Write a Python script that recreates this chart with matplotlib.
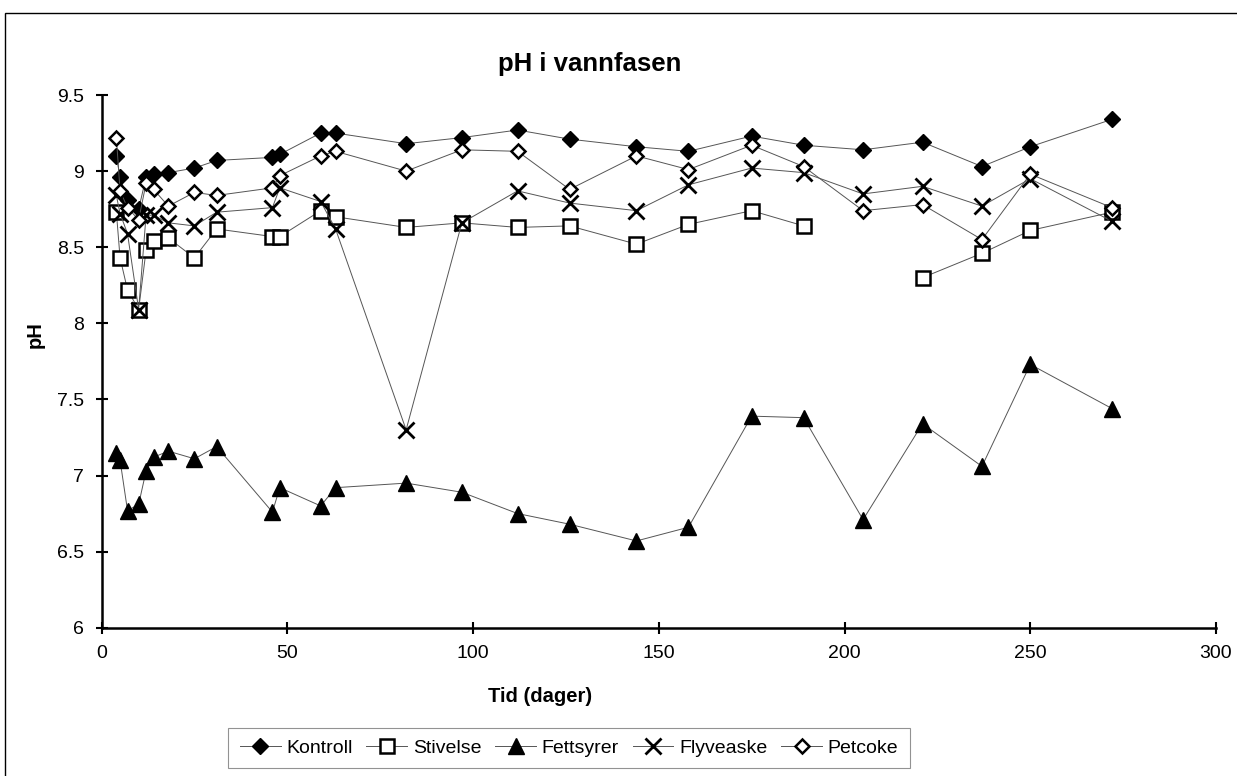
import numpy as np
import matplotlib
matplotlib.use("Agg")
import matplotlib.pyplot as plt
from matplotlib.patches import Rectangle

plt.rcParams['font.family'] = ['Liberation Sans', 'DejaVu Sans']

# ---- Data ----
days = [4, 5, 7, 10, 12, 14, 18, 25, 31, 46, 48, 59, 63, 82, 97, 112,
        126, 144, 158, 175, 189, 205, 221, 237, 250, 272]

kontroll = [9.10, 8.96, 8.81, 8.75, 8.96, 8.98, 8.99, 9.02, 9.07, 9.09, 9.11, 9.25, 9.25,
            9.18, 9.22, 9.27, 9.21, 9.16, 9.13, 9.23, 9.17, 9.14, 9.19, 9.03, 9.16, 9.34]
stivelse = [8.73, 8.43, 8.22, 8.09, 8.48, 8.54, 8.56, 8.43, 8.62, 8.57, 8.57, 8.74, 8.70,
            8.63, 8.66, 8.63, 8.64, 8.52, 8.65, 8.74, 8.64, np.nan, 8.30, 8.46, 8.61, 8.73]
fettsyrer = [7.15, 7.10, 6.77, 6.81, 7.03, 7.12, 7.16, 7.11, 7.19, 6.76, 6.92, 6.80, 6.92,
             6.95, 6.89, 6.75, 6.68, 6.57, 6.66, 7.39, 7.38, 6.71, 7.34, 7.06, 7.73, 7.44]
flyveaske = [8.84, 8.72, 8.59, 8.09, 8.71, 8.71, 8.66, 8.64, 8.73, 8.76, 8.89, 8.80, 8.62,
             7.30, 8.66, 8.87, 8.79, 8.74, 8.91, 9.02, 8.99, 8.85, 8.90, 8.77, 8.95, 8.67]
petcoke = [9.22, 8.87, 8.76, 8.68, 8.92, 8.88, 8.77, 8.86, 8.84, 8.89, 8.97, 9.10, 9.13,
           9.00, 9.14, 9.13, 8.88, 9.10, 9.01, 9.17, 9.03, 8.74, 8.78, 8.55, 8.98, 8.76]

labels = ['Kontroll', 'Stivelse', 'Fettsyrer', 'Flyveaske', 'Petcoke']
xticks = [0, 50, 100, 150, 200, 250, 300]
yticks = [6, 6.5, 7, 7.5, 8, 8.5, 9, 9.5]

# ---- Figure ----
W, H = 1237, 776
fig = plt.figure(figsize=(W / 100, H / 100), dpi=100)

# chart border (left and top visible in the scan)
fig.patches.append(Rectangle((5 / W, -0.1), 1.2, 1.1 - 13 / H, transform=fig.transFigure,
                             fill=False, lw=1.0, edgecolor='black'))

left, right, top, bottom = 101.5, 1216, 95, 627.7
ax = fig.add_axes([left / W, 1 - bottom / H, (right - left) / W, (bottom - top) / H])

line_kw = dict(color='#555555', lw=0.7)
ax.plot(days, kontroll, marker='D', ms=8, mfc='black', mec='black', label=labels[0], **line_kw)
ax.plot(days, stivelse, marker='s', ms=10.5, mfc='white', mec='black', mew=1.8, label=labels[1], **line_kw)
ax.plot(days, fettsyrer, marker='^', ms=12, mfc='black', mec='black', label=labels[2], **line_kw)
ax.plot(days, flyveaske, marker='x', ms=11, mec='black', mew=2, label=labels[3], **line_kw)
ax.plot(days, petcoke, marker='D', ms=7.5, mfc='white', mec='black', mew=1.8, label=labels[4], **line_kw)

ax.set_xlim(0, 300)
ax.set_ylim(6, 9.5)
ax.set_xticks(xticks)
ax.set_yticks(yticks)
ax.set_xticklabels([str(t) for t in xticks])
ax.set_yticklabels([f'{t:g}' for t in yticks])
ax.tick_params(direction='inout', length=9, width=1.5, labelsize=14, pad=8)
for s in ['top', 'right']:
    ax.spines[s].set_visible(False)
for s in ['left', 'bottom']:
    ax.spines[s].set_linewidth(1.8)

fig.text(590 / W, 1 - 64 / H, 'pH i vannfasen', ha='center', va='center',
         fontsize=18.5, fontweight='bold')
fig.text(540 / W, 1 - 697 / H, 'Tid (dager)', ha='center', va='center',
         fontsize=14.5, fontweight='bold')
fig.text(35 / W, 1 - 335 / H, 'pH', ha='center', va='center', rotation=90,
         fontsize=14.5, fontweight='bold')

handles, lbls = ax.get_legend_handles_labels()
leg = fig.legend(handles, lbls, ncol=5, loc='center left', bbox_to_anchor=(228 / W, 1 - 748 / H),
                 fontsize=14, frameon=True, fancybox=False, edgecolor='#777777',
                 handlelength=2.1, columnspacing=0.7, handletextpad=0.3, borderpad=0.6,
                 borderaxespad=0)
leg.get_frame().set_linewidth(0.8)

fig.savefig('out.png', dpi=100)
